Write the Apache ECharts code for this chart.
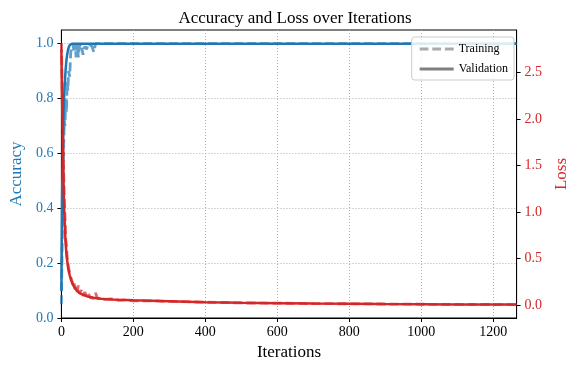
<!DOCTYPE html>
<html><head><meta charset="utf-8">
<script src="https://cdn.jsdelivr.net/npm/echarts@6/dist/echarts.min.js"></script>
<style>html,body{margin:0;padding:0;background:#fff}#c{width:578px;height:372px}</style>
</head><body><div id="c"></div>
<script>
var iterations = [0,2,4,6,8,10,12,14,16,18,20,23,26,29,32,35,38,41,44,47,50,55,60,65,70,75,80,85,90,95,100,110,120,140,160,180,200,250,300,400,500,600,700,800,900,1000,1100,1200,1265];
var trainAcc = [0.05,0.25,0.45,0.6,0.72,0.7,0.8,0.75,0.86,0.83,0.9,0.88,0.97,0.99,1.0,0.97,1.0,0.95,1.0,0.95,0.99,1.0,0.96,0.99,0.98,1.0,1.0,0.99,0.97,1.0,1.0,1.0,1.0,1.0,1.0,1.0,1.0,1.0,1.0,1.0,1.0,1.0,1.0,1.0,1.0,1.0,1.0,1.0,1.0];
var valAcc = [0.1,0.45,0.62,0.74,0.82,0.87,0.91,0.94,0.96,0.975,0.985,0.995,1.0,1.0,1.0,1.0,1.0,1.0,1.0,1.0,1.0,1.0,1.0,1.0,1.0,1.0,1.0,1.0,1.0,1.0,1.0,1.0,1.0,1.0,1.0,1.0,1.0,1.0,1.0,1.0,1.0,1.0,1.0,1.0,1.0,1.0,1.0,1.0,1.0];
var trainLoss = [2.82,2.4,1.9,1.5,1.15,0.95,0.7,0.65,0.5,0.5,0.4,0.38,0.3,0.3,0.22,0.25,0.17,0.2,0.14,0.21,0.12,0.16,0.1,0.14,0.09,0.12,0.08,0.1,0.07,0.13,0.07,0.07,0.06,0.065,0.05,0.055,0.045,0.045,0.038,0.03,0.022,0.02,0.015,0.013,0.01,0.008,0.006,0.005,0.004];
var valLoss = [2.75,2.2,1.7,1.3,1.0,0.8,0.65,0.55,0.48,0.42,0.37,0.32,0.28,0.25,0.22,0.2,0.18,0.165,0.15,0.14,0.13,0.12,0.11,0.1,0.095,0.09,0.085,0.08,0.078,0.075,0.072,0.068,0.065,0.06,0.056,0.053,0.05,0.045,0.04,0.03,0.024,0.02,0.016,0.013,0.01,0.008,0.006,0.005,0.004];
var xTicks = [0,200,400,600,800,1000,1200];
var accTicks = [0,0.2,0.4,0.6,0.8,1.0];
var lossTicks = [0,0.5,1.0,1.5,2.0,2.5];

function pairs(xs, ys){ return xs.map(function(x,i){ return [x, ys[i]]; }); }
var BLUE = '#1f77b4', RED = '#d62728';
var FONT = '"Liberation Serif", "DejaVu Serif", serif';
var DASH_ICON = 'path://M0,0h9v3h-9z M13,0h9v3h-9z M26,0h9v3h-9z';
var SOLID_ICON = 'path://M0,0h35v3h-35z';
var chart = echarts.init(document.getElementById('c'), null, {renderer:'canvas'});
chart.setOption({
  animation:false,
  backgroundColor:'#fff',
  textStyle:{fontFamily:FONT},
  title:{text:'Accuracy and Loss over Iterations', left:290, textAlign:'center', top:5,
    textStyle:{fontFamily:FONT, fontSize:17, fontWeight:'normal', color:'#000'}},
  grid:{left:60, right:58, top:30, bottom:54, show:true, borderColor:'#000', borderWidth:1, backgroundColor:'transparent'},
  legend:{
    right:64, top:37, orient:'vertical', itemWidth:34, itemHeight:3, itemGap:8,
    padding:[6,6,5,8], backgroundColor:'rgba(255,255,255,0.85)', borderColor:'#ccc', borderWidth:1, borderRadius:3,
    textStyle:{fontFamily:FONT, fontSize:12, color:'#000'},
    data:[{name:'Training', icon:DASH_ICON, itemStyle:{color:'#aaa'}},{name:'Validation', icon:SOLID_ICON, itemStyle:{color:'#808080'}}]
  },
  xAxis:{type:'value', min:0, max:1265, name:'Iterations', nameLocation:'middle', nameGap:26,
    nameTextStyle:{fontFamily:FONT, fontSize:17, color:'#000'},
    axisLine:{show:true, lineStyle:{color:'#000', width:1}},
    axisTick:{show:true, inside:false, length:4, lineStyle:{color:'#000'}, customValues:xTicks},
    axisLabel:{fontFamily:FONT, fontSize:14, color:'#000', margin:7, customValues:xTicks, formatter:function(v){return String(v);}},
    splitLine:{show:true, lineStyle:{color:'#b0b0b0', type:[1,2], width:1}}
  },
  yAxis:[
    {type:'value', min:0, max:1.05, position:'left', name:'Accuracy', nameLocation:'middle', nameGap:36,
      nameTextStyle:{fontFamily:FONT, fontSize:17, color:BLUE},
      axisLine:{show:true, lineStyle:{color:'#000'}},
      axisTick:{show:true, length:4, lineStyle:{color:'#000'}, customValues:accTicks},
      axisLabel:{fontFamily:FONT, fontSize:14, color:BLUE, margin:8, customValues:accTicks, formatter:function(v){return v.toFixed(1);}},
      splitLine:{show:true, lineStyle:{color:'#b0b0b0', type:[1,2], width:1}}
    },
    {type:'value', min:-0.14, max:2.96, position:'right', name:'Loss', nameLocation:'middle', nameGap:36,
      nameTextStyle:{fontFamily:FONT, fontSize:17, color:RED},
      axisLine:{show:true, lineStyle:{color:'#000'}},
      axisTick:{show:true, length:4, lineStyle:{color:'#000'}, customValues:lossTicks},
      axisLabel:{fontFamily:FONT, fontSize:14, color:RED, margin:8, customValues:lossTicks, formatter:function(v){return v.toFixed(1);}},
      splitLine:{show:false}
    }
  ],
  series:[
    {type:'line', yAxisIndex:0, data:pairs(iterations,trainAcc), showSymbol:false, symbol:'none',
      lineStyle:{color:BLUE, width:2.8, type:[9,4], opacity:0.7}, itemStyle:{color:BLUE}, z:2},
    {type:'line', yAxisIndex:0, data:pairs(iterations,valAcc), showSymbol:false, symbol:'none',
      lineStyle:{color:BLUE, width:2.5, type:'solid'}, itemStyle:{color:BLUE}, z:3},
    {type:'line', yAxisIndex:1, data:pairs(iterations,trainLoss), showSymbol:false, symbol:'none',
      lineStyle:{color:RED, width:2.8, type:[9,4], opacity:0.7}, itemStyle:{color:RED}, z:4},
    {type:'line', yAxisIndex:1, data:pairs(iterations,valLoss), showSymbol:false, symbol:'none',
      lineStyle:{color:RED, width:2.5, type:'solid'}, itemStyle:{color:RED}, z:5},
    {name:'Training', type:'line', yAxisIndex:0, data:[], symbol:'none',
      lineStyle:{color:'#aaa', width:2.5, type:[9,4]}, itemStyle:{color:'#aaa'}},
    {name:'Validation', type:'line', yAxisIndex:0, data:[], symbol:'none',
      lineStyle:{color:'#808080', width:2.5, type:'solid'}, itemStyle:{color:'#808080'}}
  ]
});
</script></body></html>
